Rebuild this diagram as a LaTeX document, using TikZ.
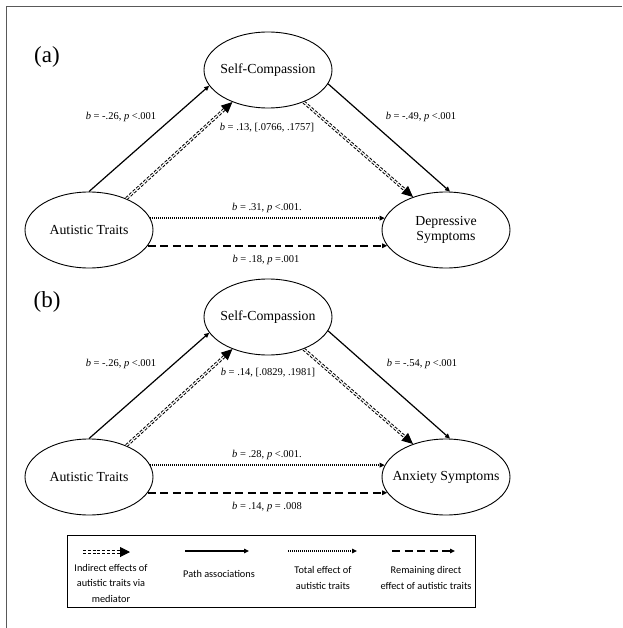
\documentclass[tikz,border=0pt]{standalone}
\usepackage{fontspec}
\setmainfont{Liberation Serif}
\newfontfamily\legfont{Carlito}
\usetikzlibrary{arrows.meta,shapes.geometric}
\tikzset{
  var/.style={ellipse,draw,line width=0.9pt,minimum width=128pt,minimum height=76pt,inner xsep=-12pt,inner ysep=0pt,align=center,font=\fontsize{13.8}{15.5}\selectfont},
  lab/.style={font=\fontsize{10.5}{12}\selectfont,inner sep=0pt},
  panel/.style={font=\fontsize{23}{25}\selectfont,inner sep=0pt},
  solidarr/.style={line width=1.2pt,-{Triangle[length=5pt,width=4.5pt]}},
  indirect/.style={double,double distance=1.2pt,line width=1pt,dash pattern=on 3pt off 1.8pt,-{Triangle[length=11pt,width=10pt]}},
  totalarr/.style={line width=1.3pt,dash pattern=on 1.1pt off 0.9pt,-{Triangle[length=5pt,width=4.5pt]}},
  directarr/.style={line width=1.5pt,dash pattern=on 8pt off 4.5pt,-{Triangle[length=5pt,width=4.5pt]}},
  legtext/.style={font=\legfont\fontsize{10.3}{15.5}\selectfont,align=center,inner sep=0pt}
}
\begin{document}
\begin{tikzpicture}[x=1pt,y=-1pt]
\useasboundingbox (0,0) rectangle (622,628);
\fill[white] (0,0) rectangle (622,628);
\draw[gray!70!black,line width=1.5pt] (6.5,628) -- (6.5,6.5) -- (622,6.5);

% ---------- panel (a)
\node[panel] (pa) at (47,57) {(a)};
\node[var] (scA) at (268,70) {Self-Compassion};
\node[var] (atA) at (89,230) {Autistic Traits};
\node[var] (dsA) at (446,230) {Depressive\\Symptoms};

\draw[solidarr] (atA.90) -- (scA.195);
\draw[solidarr] (scA.-13) -- (dsA.84);
\draw[indirect] (atA.40) -- (scA.222);
\draw[indirect] (scA.-42) -- (dsA.135);
\draw[totalarr] (atA.11) -- (dsA.169);
\draw[directarr] (atA.-15) -- (dsA.-165);

\node[lab] (la1) at (121,117) {\textit{b} = -.26, \textit{p} <.001};
\node[lab] (la2) at (267,128) {\textit{b} = .13, [.0766, .1757]};
\node[lab] (la3) at (421,117) {\textit{b} = -.49, \textit{p} <.001};
\node[lab] (la4) at (267,208) {\textit{b} = .31, \textit{p} <.001.};
\node[lab] (la5) at (266,260) {\textit{b} = .18, \textit{p} =.001};

% ---------- panel (b)
\node[panel] (pb) at (47,302) {(b)};
\node[var] (scB) at (268,317) {Self-Compassion};
\node[var] (atB) at (89,477) {Autistic Traits};
\node[var] (asB) at (446,477) {Anxiety Symptoms};

\draw[solidarr] (atB.90) -- (scB.195);
\draw[solidarr] (scB.-13) -- (asB.84);
\draw[indirect] (atB.40) -- (scB.222);
\draw[indirect] (scB.-42) -- (asB.135);
\draw[totalarr] (atB.11) -- (asB.169);
\draw[directarr] (atB.-15) -- (asB.-165);

\node[lab] (lb1) at (121,364) {\textit{b} = -.26, \textit{p} <.001};
\node[lab] (lb2) at (268,373) {\textit{b} = .14, [.0829, .1981]};
\node[lab] (lb3) at (422,364) {\textit{b} = -.54, \textit{p} <.001};
\node[lab] (lb4) at (267,455) {\textit{b} = .28, \textit{p} <.001.};
\node[lab] (lb5) at (267,507) {\textit{b} = .14, \textit{p} = .008};

% ---------- legend
\node[draw,line width=0.9pt,minimum width=408pt,minimum height=72pt,inner sep=0pt] (leg) at (271,571) {};
\coordinate (l1s) at (83,552); \coordinate (l1e) at (130,552);
\coordinate (l2s) at (185,551); \coordinate (l2e) at (249,551);
\coordinate (l3s) at (288,551); \coordinate (l3e) at (357,551);
\coordinate (l4s) at (392,551); \coordinate (l4e) at (455,551);
\draw[indirect,-{Triangle[length=10pt,width=10pt]}] (l1s) -- (l1e);
\draw[solidarr] (l2s) -- (l2e);
\draw[totalarr] (l3s) -- (l3e);
\draw[directarr] (l4s) -- (l4e);
\node[legtext] (t1) at (111,583) {Indirect effects of\\autistic traits via\\mediator};
\node[legtext] (t2) at (219,574) {Path associations};
\node[legtext] (t3) at (323,578) {Total effect of\\autistic traits};
\node[legtext] (t4) at (426,578) {Remaining direct\\effect of autistic traits};
\end{tikzpicture}
\end{document}
